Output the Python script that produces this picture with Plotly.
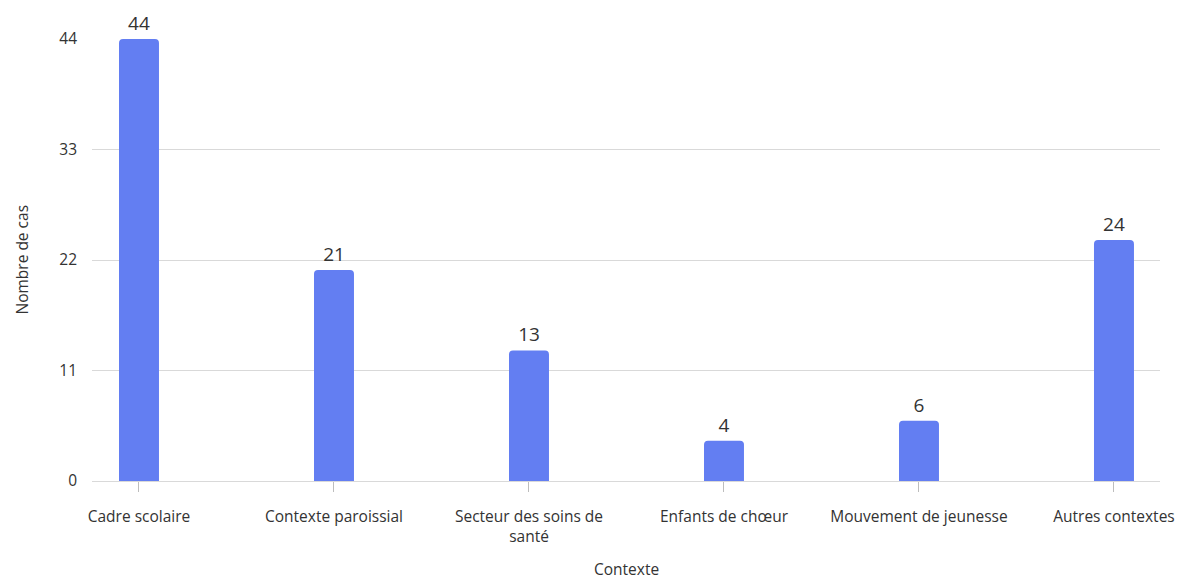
import plotly.graph_objects as go

categories = ["Cadre scolaire", "Contexte paroissial", "Secteur des soins de<br>santé",
              "Enfants de chœur", "Mouvement de jeunesse", "Autres contextes"]
values = [44, 21, 13, 4, 6, 24]
y_ticks = [0, 11, 22, 33, 44]

FONT = "Open Sans, Noto Sans, sans-serif"
TXT = "#333333"

fig = go.Figure(go.Bar(
    x=list(range(len(categories))),
    y=values,
    marker=dict(color="#637EF2", line=dict(width=0)),
    width=0.205,
    text=[str(v) for v in values],
    textposition="outside",
    textfont=dict(size=19, color=TXT, family=FONT, weight=500),
    cliponaxis=False,
))

fig.update_layout(
    width=1179, height=582,
    margin=dict(l=92, r=19, t=39, b=101),
    paper_bgcolor="white", plot_bgcolor="white",
    barcornerradius=4,
    showlegend=False,
    font=dict(family=FONT, color=TXT, size=15),
    annotations=[
        dict(text="Contexte", xref="paper", yref="paper", x=0.5, y=-0.198,
             yanchor="middle", xanchor="center", showarrow=False,
             font=dict(size=15.5, color=TXT, weight=500)),
        dict(text="Nombre de cas", xref="paper", yref="paper", x=-0.066, y=0.5,
             xanchor="center", yanchor="middle", textangle=-90, showarrow=False,
             font=dict(size=15.5, color=TXT, weight=500)),
    ],
)
fig.update_xaxes(
    tickmode="array", tickvals=list(range(len(categories))), ticktext=categories,
    range=[-0.241, 5.236], automargin=False,
    ticks="outside", ticklen=10, tickcolor="#bdbdbd", tickwidth=1,
    showline=True, linecolor="#d9d9d9", linewidth=1,
    showgrid=False, zeroline=False,
    ticklabelstandoff=11,
    tickfont=dict(size=15.5, color=TXT, weight=500),
)
fig.update_yaxes(
    range=[0, 44], tickmode="array", tickvals=y_ticks, automargin=False,
    showgrid=True, gridcolor="#d9d9d9", gridwidth=1,
    zeroline=False, showline=False,
    ticklabelstandoff=14,
    tickfont=dict(size=15.5, color=TXT, weight=500),
)

fig.write_html("out.html")
